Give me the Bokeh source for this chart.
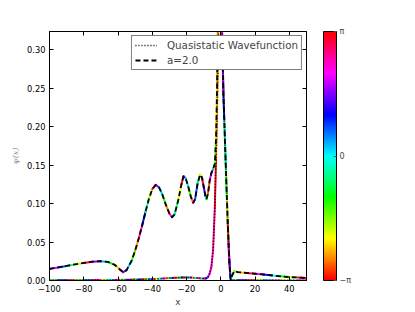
import math
import colorsys
from bokeh.plotting import figure
from bokeh.models import (ColumnDataSource, LinearColorMapper, ColorBar, FixedTicker,
                          Legend, LegendItem, Range1d, NumeralTickFormatter, LinearAxis)
from bokeh.embed import file_html
from bokeh.resources import INLINE

# ---- data ----
x = [-100, -95, -90, -85, -80, -75, -70, -66, -62, -59, -57, -55, -52, -50, -48, -46, -44,
     -42, -40, -38, -36, -34, -32, -30, -28.5, -27, -25, -23, -21.8, -20.5, -19, -17.5,
     -16.1, -15, -13.5, -12.1, -11, -10, -9, -8.4, -7.5, -6.5, -5.5, -4.5, -3.5, -2.8, -2.2,
     -1.8, -1, 0, 0.5, 1, 1.5, 2, 2.5, 3, 3.5, 4, 4.5, 5, 5.5, 5.8, 6.5, 7.8, 10, 15, 20,
     25, 30, 35, 40, 45, 50]

psi_a2 = [0.0152, 0.0170, 0.0190, 0.0210, 0.0228, 0.0245, 0.0251, 0.0242, 0.0205, 0.0145,
          0.0108, 0.0135, 0.0260, 0.0390, 0.0540, 0.0710, 0.0890, 0.1060, 0.1190, 0.1244,
          0.1210, 0.1110, 0.0980, 0.0870, 0.0823, 0.0860, 0.1030, 0.1250, 0.1357, 0.1330,
          0.1220, 0.1090, 0.1010, 0.1060, 0.1270, 0.1378, 0.1340, 0.1220, 0.1100, 0.1058,
          0.1130, 0.1300, 0.1400, 0.1450, 0.1520, 0.1850, 0.2500, 0.3300, 0.4200, 0.4000,
          0.3400, 0.2900, 0.2430, 0.2100, 0.1750, 0.1430, 0.1100, 0.0780, 0.0500, 0.0250,
          0.0080, 0.0010, 0.0060, 0.0120, 0.0108, 0.0098, 0.0088, 0.0078, 0.0066, 0.0055,
          0.0044, 0.0039, 0.0034]

psi_qs = [0.0003, 0.0003, 0.0004, 0.0004, 0.0005, 0.0005, 0.0006, 0.0007, 0.0008, 0.0009,
          0.0010, 0.0010, 0.0011, 0.0012, 0.0013, 0.0014, 0.0015, 0.0016, 0.0018, 0.0020,
          0.0022, 0.0025, 0.0028, 0.0031, 0.0033, 0.0035, 0.0037, 0.0039, 0.0040, 0.0040,
          0.0040, 0.0038, 0.0036, 0.0034, 0.0031, 0.0028, 0.0026, 0.0025, 0.0026, 0.0030,
          0.0045, 0.0090, 0.0180, 0.0400, 0.0950, 0.1600, 0.2200, 0.2700, 0.3800, 0.4200,
          0.3600, 0.3000, 0.2450, 0.2100, 0.1750, 0.1420, 0.1080, 0.0760, 0.0480, 0.0230,
          0.0070, 0.0010, 0.0004, 0.0003, 0.0003, 0.0002, 0.0002, 0.0002, 0.0001, 0.0001,
          0.0001, 0.0001, 0.0001]

phase_a2 = [2.0, 0.8, -0.5, -1.8, 3.0, 1.6, 0.3, -1.0, -2.3, 2.8,
            1.5, 0.2, -1.2, -2.5, 2.4, 1.0, -0.4, -1.8, 3.0, 1.6,
            0.2, -1.2, -2.6, 2.2, 0.8, -0.6, -2.0, 2.9, 1.5, 0.1,
            -1.3, -2.7, 2.1, 0.7, -0.7, -2.1, 2.8, 1.4, 0.0, -1.4,
            -2.8, 2.0, 0.6, -0.8, -1.6, -2.2, -2.5, -2.7, -2.9, 3.0,
            2.5, 1.8, 1.0, 0.2, -0.6, -1.4, -2.2, -3.0, 2.4, 1.6,
            0.8, 0.0, -0.8, -1.6, -2.4, 2.9, 2.0, 1.0, 0.0, -1.0,
            -2.0, 3.0, 2.0]

phase_qs = [-1.0, 1.0, 3.0, -1.5, 0.5, 2.5, -2.0, 0.0, 2.0, -2.5,
            -0.5, 1.5, -3.0, -1.0, 1.0, 3.0, -1.5, 0.5, 2.5, -2.0,
            0.0, 2.0, -2.5, -0.5, 1.5, -3.0, -1.0, 1.0, 3.0, -1.5,
            0.5, 2.5, -2.0, 0.0, 2.0, -2.5, -0.5, 1.5, 2.5, 1.0,
            2.0, 2.3, 2.4, 2.6, 3.0, -2.8, -2.5, -2.3, -2.0, 0.0,
            0.5, 1.0, -2.2, -2.0, 0.2, 0.0, -0.3, -1.0, 1.2, 2.0,
            0.4, 0.0, 2.0, -1.0, 1.0, 3.0, -1.5, 0.5, 2.5, -2.0,
            0.0, 2.0, -2.5]

x_ticks = [-100, -80, -60, -40, -20, 0, 20, 40]
y_ticks = [0.0, 0.05, 0.10, 0.15, 0.20, 0.25, 0.30]
labels = ["Quasistatic Wavefunction", "a=2.0"]

# ---- hsv palette ----
N = 256
palette = []
for i in range(N):
    r, g, b = colorsys.hsv_to_rgb(i / (N - 1) * 0.999, 1.0, 1.0)
    palette.append("#%02x%02x%02x" % (int(r * 255), int(g * 255), int(b * 255)))


def phase_color(ph):
    t = (ph + math.pi) / (2 * math.pi)
    k = min(N - 1, max(0, int(round(t * (N - 1)))))
    return palette[k]


def seg_source(xs, ys, ph):
    return ColumnDataSource(dict(
        x0=xs[:-1], y0=ys[:-1], x1=xs[1:], y1=ys[1:],
        c=[phase_color(p) for p in ph[:-1]]))


p = figure(frame_width=257, frame_height=249, output_backend="svg", toolbar_location=None,
           x_range=Range1d(-100, 50), y_range=Range1d(0, 0.324),
           min_border_left=49, min_border_top=31, min_border_bottom=20, min_border_right=10)
p.background_fill_color = "white"
p.border_fill_color = "white"
p.outline_line_color = "black"
p.outline_line_width = 1
p.grid.visible = False

p.segment(x0="x0", y0="y0", x1="x1", y1="y1", line_color="c", line_width=2,
          line_cap="round", source=seg_source(x, psi_qs, phase_qs))
p.segment(x0="x0", y0="y0", x1="x1", y1="y1", line_color="c", line_width=2,
          line_cap="round", source=seg_source(x, psi_a2, phase_a2))

r_qs = p.line(x, psi_qs, line_color="black", line_width=1.6, line_dash="1 2")
r_a2 = p.line(x, psi_a2, line_color="black", line_width=1.8, line_dash="5 3")

legend = Legend(items=[LegendItem(label=labels[0], renderers=[r_qs]),
                       LegendItem(label=labels[1], renderers=[r_a2])],
                location="top_right", margin=4, padding=3, spacing=3,
                label_height=12, glyph_height=12, glyph_width=22, label_standoff=10,
                label_text_font="DejaVu Sans", label_text_font_size="10.3px",
                border_line_color="black", border_line_width=1,
                background_fill_color="white", background_fill_alpha=1.0)
p.add_layout(legend)

# axes
for ax in (p.xaxis[0], p.yaxis[0]):
    ax.axis_line_color = "black"
    ax.major_tick_in = 4
    ax.major_tick_out = 0
    ax.minor_tick_line_color = None
    ax.major_label_text_font = "DejaVu Sans"
    ax.major_label_text_font_size = "8.3px"
    ax.major_label_text_color = "black"
    ax.major_label_standoff = 4

p.xaxis.ticker = FixedTicker(ticks=x_ticks)
p.xaxis.major_label_overrides = {t: (("\u2212" + str(-t)) if t < 0 else str(t)) for t in x_ticks}
p.yaxis.ticker = FixedTicker(ticks=y_ticks)
p.yaxis.formatter = NumeralTickFormatter(format="0.00")

p.xaxis.axis_label = "x"
p.xaxis.axis_label_text_font = "DejaVu Sans"
p.xaxis.axis_label_text_font_style = "normal"
p.xaxis.axis_label_text_font_size = "9px"
p.xaxis.axis_label_standoff = 2

p.yaxis.axis_label = "\u03c8(x)"
p.yaxis.axis_label_text_font = "DejaVu Serif"
p.yaxis.axis_label_text_font_style = "italic"
p.yaxis.axis_label_text_font_size = "8px"
p.yaxis.axis_label_text_color = "#888888"
p.yaxis.axis_label_standoff = 4

# tick-only axes on top and right (matplotlib-style box ticks)
top_ax = LinearAxis(ticker=FixedTicker(ticks=x_ticks), major_tick_in=4, major_tick_out=0,
                    minor_tick_line_color=None, major_label_standoff=0,
                    major_label_overrides={t: "" for t in x_ticks},
                    axis_line_color="black")
right_ax = LinearAxis(ticker=FixedTicker(ticks=y_ticks), major_tick_in=4, major_tick_out=0,
                      minor_tick_line_color=None, major_label_standoff=0,
                      major_label_overrides={t: "" for t in y_ticks},
                      axis_line_color="black")
p.add_layout(top_ax, "above")
p.add_layout(right_ax, "right")

# colour bar
mapper = LinearColorMapper(palette=palette, low=-1, high=1)
cb = ColorBar(color_mapper=mapper, ticker=FixedTicker(ticks=[-1, 0, 1]),
              major_label_overrides={-1: "\u2212\u03c0", 0: "0", 1: "\u03c0"},
              width=13, height=249, padding=0, margin=0, location=(17, 0),
              bar_line_color="black", bar_line_width=1,
              major_tick_line_color="#555555", major_tick_in=3, major_tick_out=0,
              major_label_text_font="DejaVu Sans", major_label_text_font_size="8px",
              label_standoff=3, background_fill_alpha=0, border_line_color=None)
p.add_layout(cb, "right")

open("out.html", "w").write(file_html(p, INLINE))
